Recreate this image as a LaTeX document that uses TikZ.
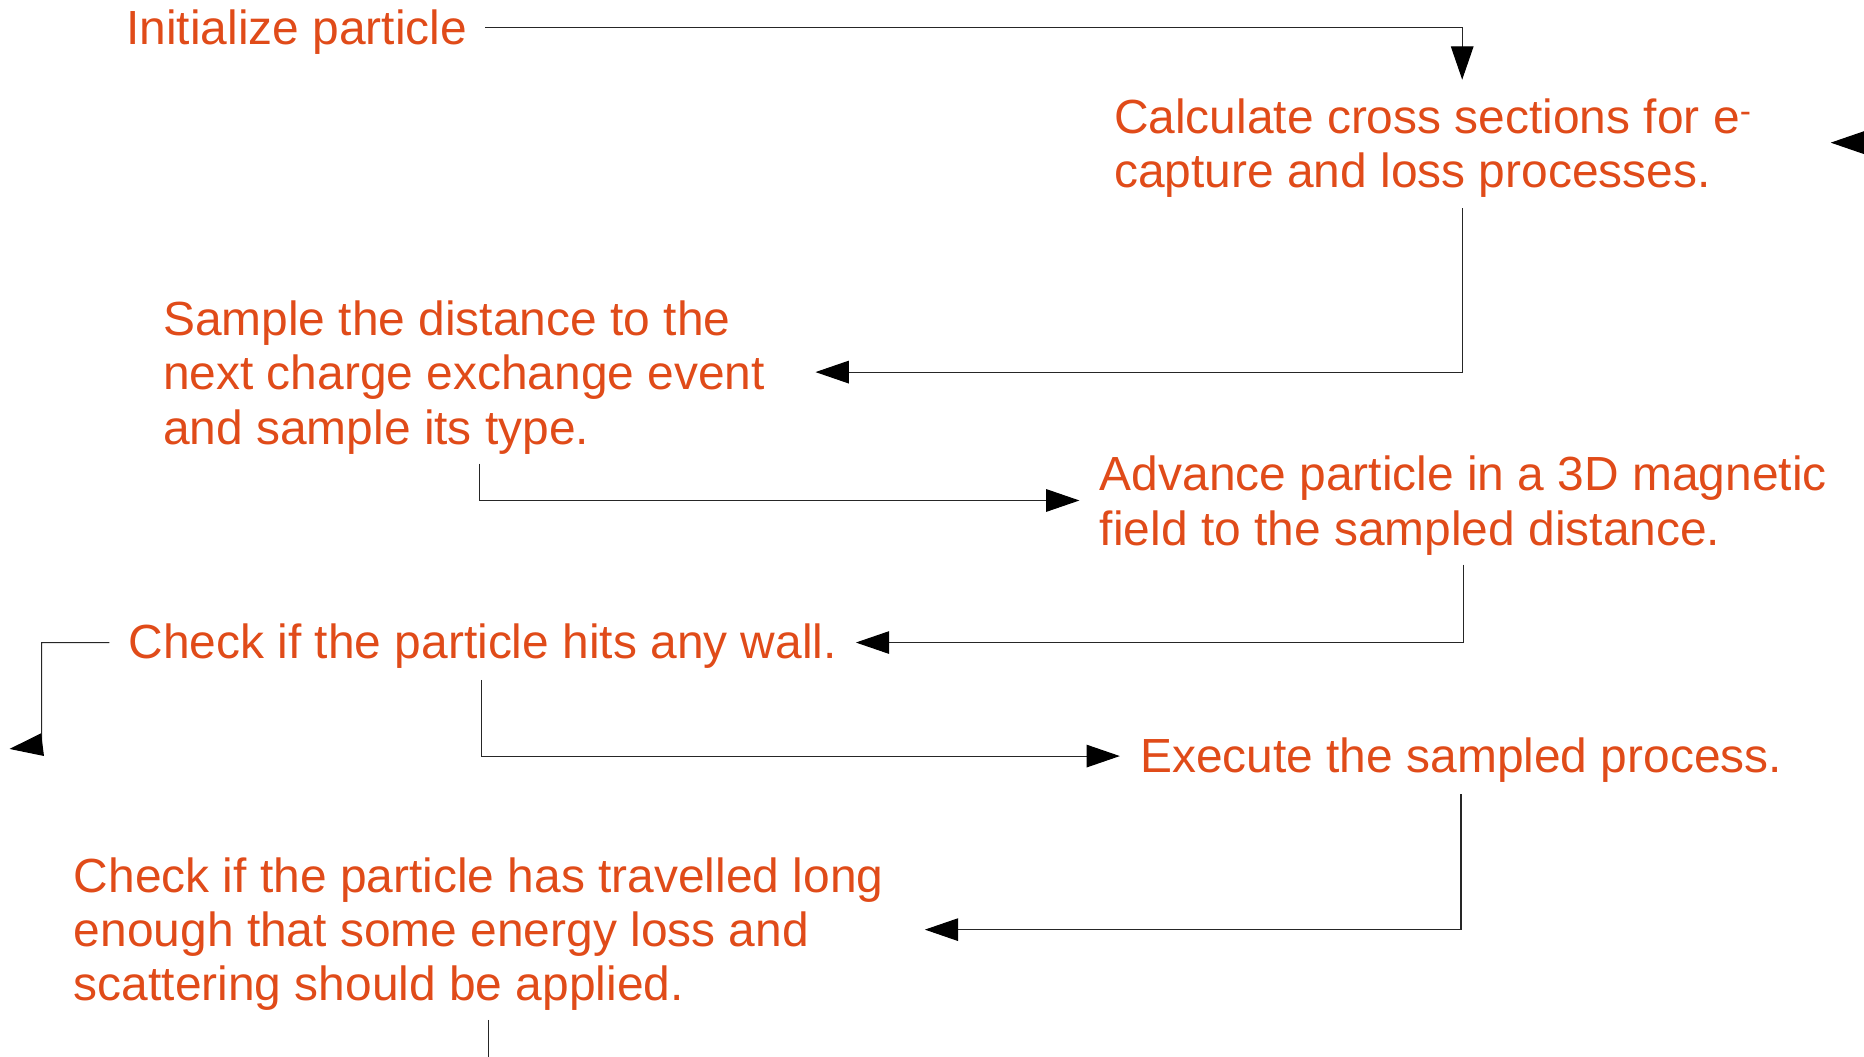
\documentclass[tikz,border=0pt]{standalone}
\usepackage{fontspec}
\setmainfont{Liberation Sans}
\usetikzlibrary{arrows.meta}
\definecolor{txtorange}{RGB}{224,75,25}
\tikzset{
  txt/.style={inner sep=0pt, anchor=base west, align=left, text=txtorange,
    font=\fontsize{40.3}{45.6}\selectfont},
  conn/.style={draw=black!85, line width=0.9pt},
  arr/.style={conn, -{Triangle[length=28pt,width=19pt,black]}},
}
\begin{document}
\begin{tikzpicture}[x=1pt,y=-1pt]
\useasboundingbox (0,0) rectangle (1568,889);
% text nodes (base anchor = baseline of the last line)
\node[txt] (init) at (106,37.5) {Initialize particle};
\node[txt] (calc) at (937,158) {Calculate cross sections for e\textsuperscript{-}\\capture and loss processes.};
\node[txt] (sample) at (137,373.5) {Sample the distance to the\\next charge exchange event\\and sample its type.};
\node[txt] (advance) at (925,458.5) {Advance particle in a 3D magnetic\\field to the sampled distance.};
\node[txt] (wall) at (108,554) {Check if the particle hits any wall.};
\node[txt] (exec) at (959,650) {Execute the sampled process.};
\node[txt] (travel) at (62,842) {Check if the particle has travelled long\\enough that some energy loss and\\scattering should be applied.};
% connector points
\coordinate (initOut) at (408,23);
\coordinate (calcIn) at (1230,67);
\coordinate (calcOut) at (1230,175);
\coordinate (sampleIn) at (686,313);
\coordinate (sampleOut) at (403,390);
\coordinate (advIn) at (908,421);
\coordinate (advOut) at (1231,475);
\coordinate (wallIn) at (720,540.5);
\coordinate (wallOutL) at (92,540.5);
\coordinate (wallBend) at (35,540.5);
\coordinate (wallDown) at (35,626.5);
\coordinate (wallTip) at (8,630);
\coordinate (wallOut) at (405,572);
\coordinate (execIn) at (942,636);
\coordinate (execOut) at (1229,668);
\coordinate (travelIn) at (778,782);
\coordinate (travelOut) at (411,858);
\coordinate (travelEnd) at (411,889);
\coordinate (rightEdge) at (1568,120);
\coordinate (rightTip) at (1540,120);
% connectors
\draw[arr] (initOut) -| (calcIn);
\draw[arr] (calcOut) |- (sampleIn);
\draw[arr] (sampleOut) |- (advIn);
\draw[arr] (advOut) |- (wallIn);
\draw[arr] (wallOutL) -- (wallBend) -- (wallDown) -- (wallTip);
\draw[arr] (wallOut) |- (execIn);
\draw[arr] (execOut) |- (travelIn);
\draw[conn] (travelOut) -- (travelEnd);
\draw[arr] (rightEdge) -- (rightTip);
\end{tikzpicture}
\end{document}
